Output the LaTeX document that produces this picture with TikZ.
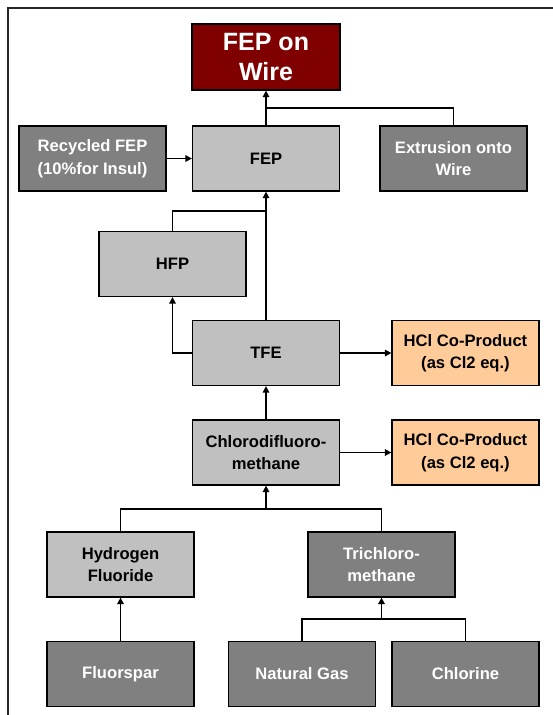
\documentclass[tikz,border=0pt]{standalone}
\usepackage{fontspec}
\setmainfont{Liberation Sans}
\usetikzlibrary{arrows.meta}
\definecolor{darkred}{HTML}{800000}
\definecolor{midgray}{HTML}{808080}
\definecolor{lightgray}{HTML}{C0C0C0}
\definecolor{peach}{HTML}{FFCC99}
\tikzset{
  box/.style={draw=black, line width=1.2pt, minimum width=147pt, minimum height=65pt,
    inner sep=2pt, align=center, font=\fontsize{16.6}{22.5}\selectfont\bfseries},
  darkbox/.style={box, fill=midgray, text=white},
  lightbox/.style={box, fill=lightgray, text=black},
  hclbox/.style={box, fill=peach, text=black},
  topbox/.style={box, fill=darkred, text=white, minimum width=148pt, minimum height=66pt,
    font=\fontsize{25}{30}\selectfont\bfseries},
  link/.style={draw=black, line width=1.5pt},
  arr/.style={link, -{Triangle[length=6.5pt,width=6.5pt]}}
}
\begin{document}
\begin{tikzpicture}[x=1pt,y=-1pt]
\useasboundingbox (0,0) rectangle (553,715);
\begin{scope}
\clip (0,0) rectangle (553,715);
\draw[line width=1.4pt, draw=black!85] (8,8) rectangle (570,730);
\end{scope}

% product and its inputs
\node[topbox]   (wire)     at (266,57)    {FEP on\\Wire};
\node[darkbox]  (recycled) at (92.5,158.5) {Recycled FEP\\(10\%for Insul)};
\node[lightbox] (fep)      at (266,158.5) {FEP};
\node[darkbox]  (extr)     at (453.5,158.5) {Extrusion onto\\Wire};

% monomers
\node[lightbox] (hfp)      at (172.5,264) {HFP};
\node[lightbox] (tfe)      at (266,353)   {TFE};
\node[hclbox]   (hcl1)     at (465.5,353) {HCl Co-Product\\(as Cl2 eq.)};
\node[lightbox] (chloro)   at (266,452.5) {Chlorodifluoro-\\methane};
\node[hclbox]   (hcl2)     at (465.5,452.5) {HCl Co-Product\\(as Cl2 eq.)};

% intermediates and raw materials
\node[lightbox] (hf)       at (120.5,564.5) {Hydrogen\\Fluoride};
\node[darkbox]  (tri)      at (381.5,564.5) {Trichloro-\\methane};
\node[darkbox]  (fluor)    at (120.5,674) {Fluorspar};
\node[darkbox]  (gas)      at (302,674)   {Natural Gas};
\node[darkbox]  (chlorine) at (465.5,674) {Chlorine};

% junction points
\coordinate (j1) at (266,108);
\coordinate (j2) at (266,211);
\coordinate (j3) at (266,509);
\coordinate (j4) at (381.5,619);

% connectors
\draw[arr]  (fep.north) -- (wire.south);
\draw[link] (extr.north) |- (j1);
\draw[arr]  (recycled.east) -- (fep.west);
\draw[arr]  (tfe.north) -- (fep.south);
\draw[link] (hfp.north) |- (j2);
\draw[arr]  (tfe.west) -| (hfp.south);
\draw[arr]  (tfe.east) -- (hcl1.west);
\draw[arr]  (chloro.north) -- (tfe.south);
\draw[arr]  (chloro.east) -- (hcl2.west);
\draw[link] (hf.north) |- (j3) -| (tri.north);
\draw[arr]  (j3) -- (chloro.south);
\draw[arr]  (fluor.north) -- (hf.south);
\draw[link] (gas.north) |- (j4) -| (chlorine.north);
\draw[arr]  (j4) -- (tri.south);
\end{tikzpicture}
\end{document}
